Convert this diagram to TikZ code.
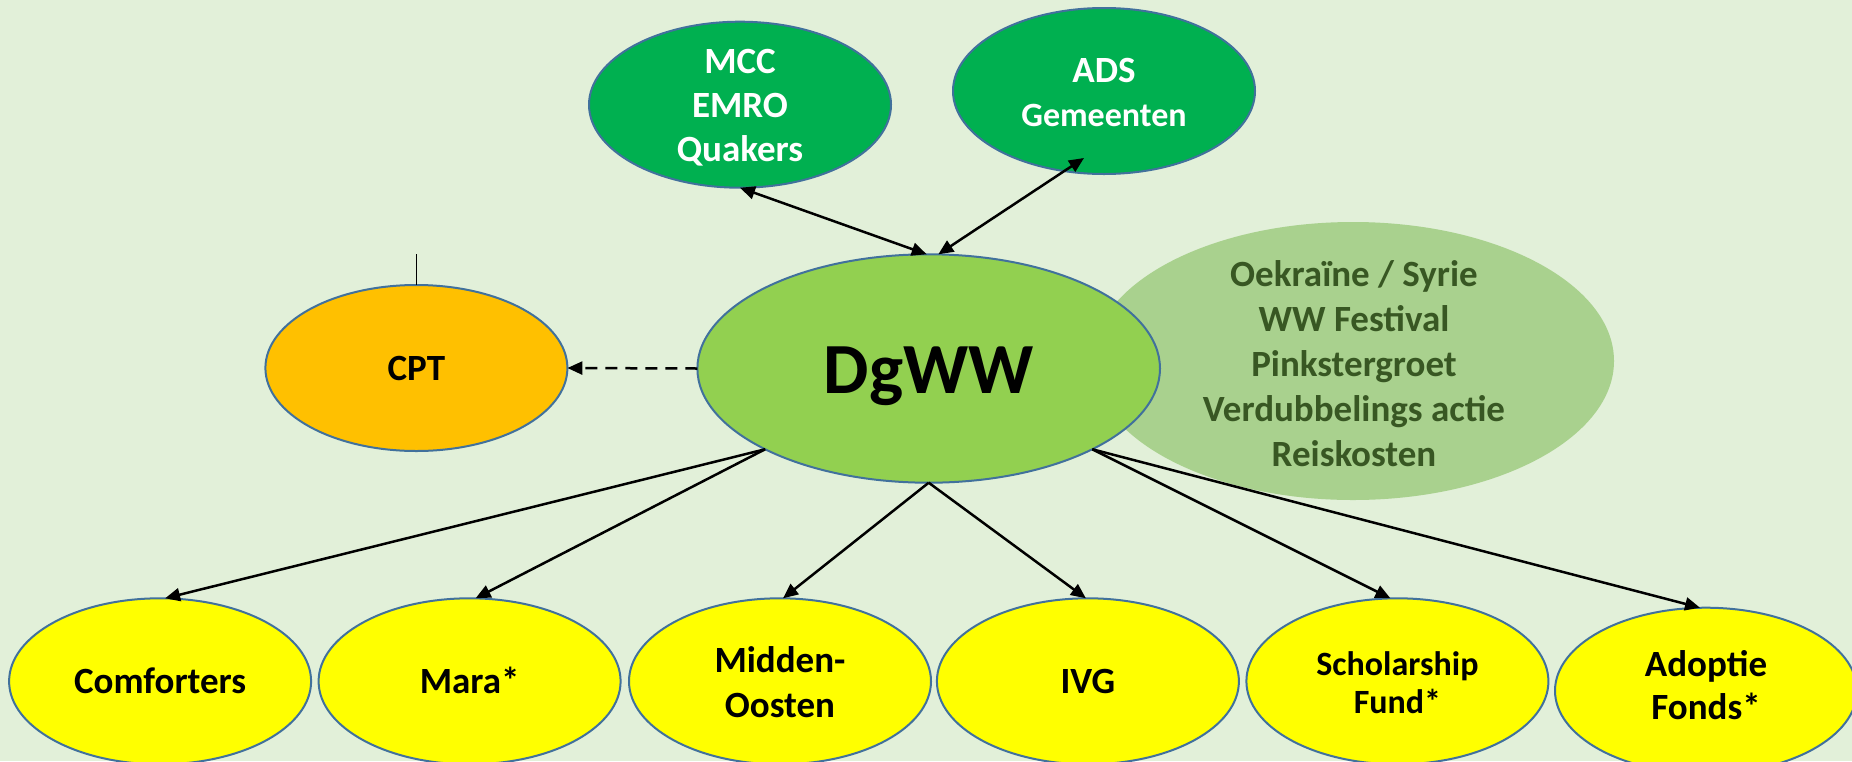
\documentclass[tikz,border=0pt]{standalone}
\usepackage{fontspec}
\setmainfont{Carlito}
\usetikzlibrary{arrows.meta,shapes.geometric}
\definecolor{bgc}{HTML}{E2F0D9}
\definecolor{dkgreen}{HTML}{00B050}
\definecolor{midgreen}{HTML}{92D050}
\definecolor{ltgreen}{HTML}{A9D18E}
\definecolor{txtgreen}{HTML}{385723}
\definecolor{orangec}{HTML}{FFC000}
\definecolor{yel}{HTML}{FFFF00}
\definecolor{bord}{HTML}{41719C}
\begin{document}
\begin{tikzpicture}[x=1pt,y=-1pt,
  >={Triangle[length=15pt,width=13pt]},
  oval/.style={ellipse, draw=bord, line width=2pt, inner sep=0pt, outer sep=0pt,
    minimum width=302pt, minimum height=166pt},
  txt/.style={align=center, inner sep=0pt, outer sep=0pt,
    font=\bfseries\fontsize{37}{44}\selectfont},
  conn/.style={line width=2.5pt, draw=black, line cap=butt}]
\useasboundingbox (0,0) rectangle (1852,761);
\fill[bgc] (0,0) rectangle (1852,761);
% light background ellipse
\node[ellipse, fill=ltgreen, inner sep=0pt, outer sep=0pt,
  minimum width=522pt, minimum height=278pt] (lt) at (1353,361) {};
\node[txt, text=txtgreen, font=\bfseries\fontsize{37}{45}\selectfont] (lt-t) at (1354,364)
  {Oekraïne / Syrie\\WW Festival\\Pinkstergroet\\Verdubbelings actie\\Reiskosten};
% top nodes
\node[oval, fill=dkgreen] (mcc) at (740,104.7) {};
\node[txt, text=white] (mcc-t) at (740,108) {MCC\\EMRO\\Quakers};
\node[oval, fill=dkgreen] (ads) at (1104,91) {};
\node[txt, text=white] (ads-t) at (1104,92) {ADS\\{\fontsize{34}{44}\selectfont Gemeenten}};
% centre
\node[ellipse, draw=bord, line width=2pt, fill=midgreen, inner sep=0pt, outer sep=0pt,
  minimum width=462.6pt, minimum height=228.4pt] (dgww) at (928.7,368.5) {};
\node[anchor=base, inner sep=0pt, font=\bfseries\fontsize{72}{86}\selectfont] (dgww-t) at (928.7,393.3) {DgWW};
% CPT
\node[oval, fill=orangec] (cpt) at (416.4,368) {};
\node[txt, anchor=base] (cpt-t) at (416.4,380.5) {CPT};
\coordinate (cptline) at (416.4,254);
% bottom row
\node[oval, fill=yel] (comf) at (160.1,681.3) {};
\node[txt, anchor=base] (comf-t) at (160.1,693.3) {Comforters};
\node[oval, fill=yel] (mara) at (469.6,681.3) {};
\node[txt, anchor=base] (mara-t) at (469.6,693.3) {Mara*};
\node[oval, fill=yel] (midden) at (780,681.3) {};
\node[txt, font=\bfseries\fontsize{37}{45}\selectfont] (midden-t) at (780,681.7) {Midden-\\Oosten};
\node[oval, fill=yel] (ivg) at (1087.9,681.3) {};
\node[txt, anchor=base] (ivg-t) at (1087.9,693.3) {IVG};
\node[oval, fill=yel] (schol) at (1397.4,681.3) {};
\node[txt, font=\bfseries\fontsize{34}{38}\selectfont] (schol-t) at (1397.4,682.3) {Scholarship\\Fund*};
\node[oval, fill=yel] (adopt) at (1706,690.7) {};
\node[txt, font=\bfseries\fontsize{37}{43}\selectfont] (adopt-t) at (1706,685.4) {Adoptie\\Fonds*};
% connectors
\draw[conn, <->] (mcc.south) -- ([xshift=-2pt]dgww.north);
\draw[conn, <->] ([shift={(-20,67)}]ads.center) -- ([xshift=9.6pt]dgww.north);
\draw[conn, ->, dash pattern=on 12pt off 8pt] (dgww.west) -- (cpt.east);
\draw[line width=1.2pt] (cpt.north) -- (cptline);
\draw[conn, ->] (dgww.south west) -- ([xshift=5pt]comf.north);
\draw[conn, ->] (dgww.south west) -- ([xshift=6pt]mara.north);
\draw[conn, ->] (dgww.south) -- ([xshift=3pt]midden.north);
\draw[conn, ->] (dgww.south) -- ([xshift=-2pt]ivg.north);
\draw[conn, ->] (dgww.south east) -- ([xshift=-7pt]schol.north);
\draw[conn, ->] (dgww.south east) -- ([xshift=-6pt]adopt.north);
\end{tikzpicture}
\end{document}
